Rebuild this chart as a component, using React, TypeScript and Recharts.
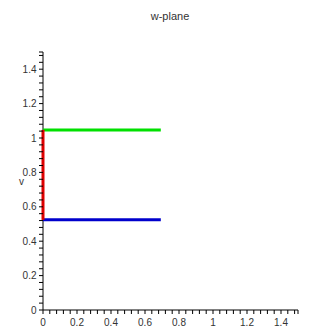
import { ComposedChart, Line, ReferenceLine, XAxis, YAxis } from "recharts";

const majorTicks = [0, 0.2, 0.4, 0.6, 0.8, 1, 1.2, 1.4];
const allTicks = [
  0, 0.04, 0.08, 0.12, 0.16, 0.2, 0.24, 0.28, 0.32, 0.36, 0.4, 0.44, 0.48,
  0.52, 0.56, 0.6, 0.64, 0.68, 0.72, 0.76, 0.8, 0.84, 0.88, 0.92, 0.96, 1,
  1.04, 1.08, 1.12, 1.16, 1.2, 1.24, 1.28, 1.32, 1.36, 1.4, 1.44, 1.48, 1.5,
];

// u = 0 segment, and the two arg lines
const redEdge = [
  { u: 0, v: 0.524 },
  { u: 0, v: 1.047 },
];
const greenEdge = [
  { u: 0, v: 1.047 },
  { u: 0.693, v: 1.047 },
];
const blueEdge = [
  { u: 0, v: 0.524 },
  { u: 0.693, v: 0.524 },
];

const font = "Liberation Sans, Arial, sans-serif";
const fmt = (v: number) => (v === 0 || v === 1 ? String(v) : v.toFixed(1));
const isMajor = (v: number) => majorTicks.some((m) => Math.abs(m - v) < 1e-6);

const XTick = (props: any) => {
  const { x, y, payload } = props;
  const v = payload.value;
  return (
    <g>
      <line x1={x} x2={x} y1={y} y2={y + 4} stroke="#000" />
      {isMajor(v) && (
        <text x={x} y={y + 16} textAnchor="middle" fontSize={10} fill="#333" fontFamily={font}>
          {fmt(v)}
        </text>
      )}
    </g>
  );
};

const YTick = (props: any) => {
  const { x, y, payload } = props;
  const v = payload.value;
  return (
    <g>
      <line x1={x} x2={x - 4} y1={y} y2={y} stroke="#000" />
      {isMajor(v) && (
        <text x={x - 6.5} y={y + 3.5} textAnchor="end" fontSize={10} fill="#333" fontFamily={font}>
          {fmt(v)}
        </text>
      )}
    </g>
  );
};

export default function App() {
  return (
    <div
      style={{
        position: "absolute",
        left: 0,
        top: 0,
        width: 326,
        height: 331,
        background: "#fff",
        fontFamily: font,
      }}
    >
      <div
        style={{
          position: "absolute",
          top: 10,
          left: 0,
          width: 340,
          textAlign: "center",
          fontSize: 11,
          color: "#333",
        }}
      >
        w-plane
      </div>
      <div
        style={{ position: "absolute", top: 176, left: 19, fontSize: 10, color: "#333" }}
      >
        v
      </div>
      <ComposedChart
        width={326}
        height={331}
        margin={{ top: 52, right: 28, bottom: 3, left: 8 }}
      >
        <XAxis
          type="number"
          dataKey="u"
          domain={[0, 1.5]}
          ticks={allTicks}
          tick={<XTick />}
          axisLine={{ stroke: "#000" }}
          tickLine={false}
          tickSize={0}
          tickMargin={0}
          height={18}
          interval={0}
        />
        <YAxis
          type="number"
          dataKey="v"
          domain={[0, 1.5]}
          ticks={allTicks}
          tick={<YTick />}
          axisLine={false}
          tickLine={false}
          tickSize={0}
          tickMargin={0}
          width={35}
          interval={0}
        />
        <ReferenceLine x={0} stroke="#000" />
        <Line
          data={greenEdge}
          dataKey="v"
          stroke="#00e000"
          strokeWidth={3}
          dot={false}
          isAnimationActive={false}
        />
        <Line
          data={blueEdge}
          dataKey="v"
          stroke="#0000cc"
          strokeWidth={3}
          dot={false}
          isAnimationActive={false}
        />
        <Line
          data={redEdge}
          dataKey="v"
          stroke="#dd0000"
          strokeWidth={3}
          dot={false}
          isAnimationActive={false}
        />
      </ComposedChart>
    </div>
  );
}
